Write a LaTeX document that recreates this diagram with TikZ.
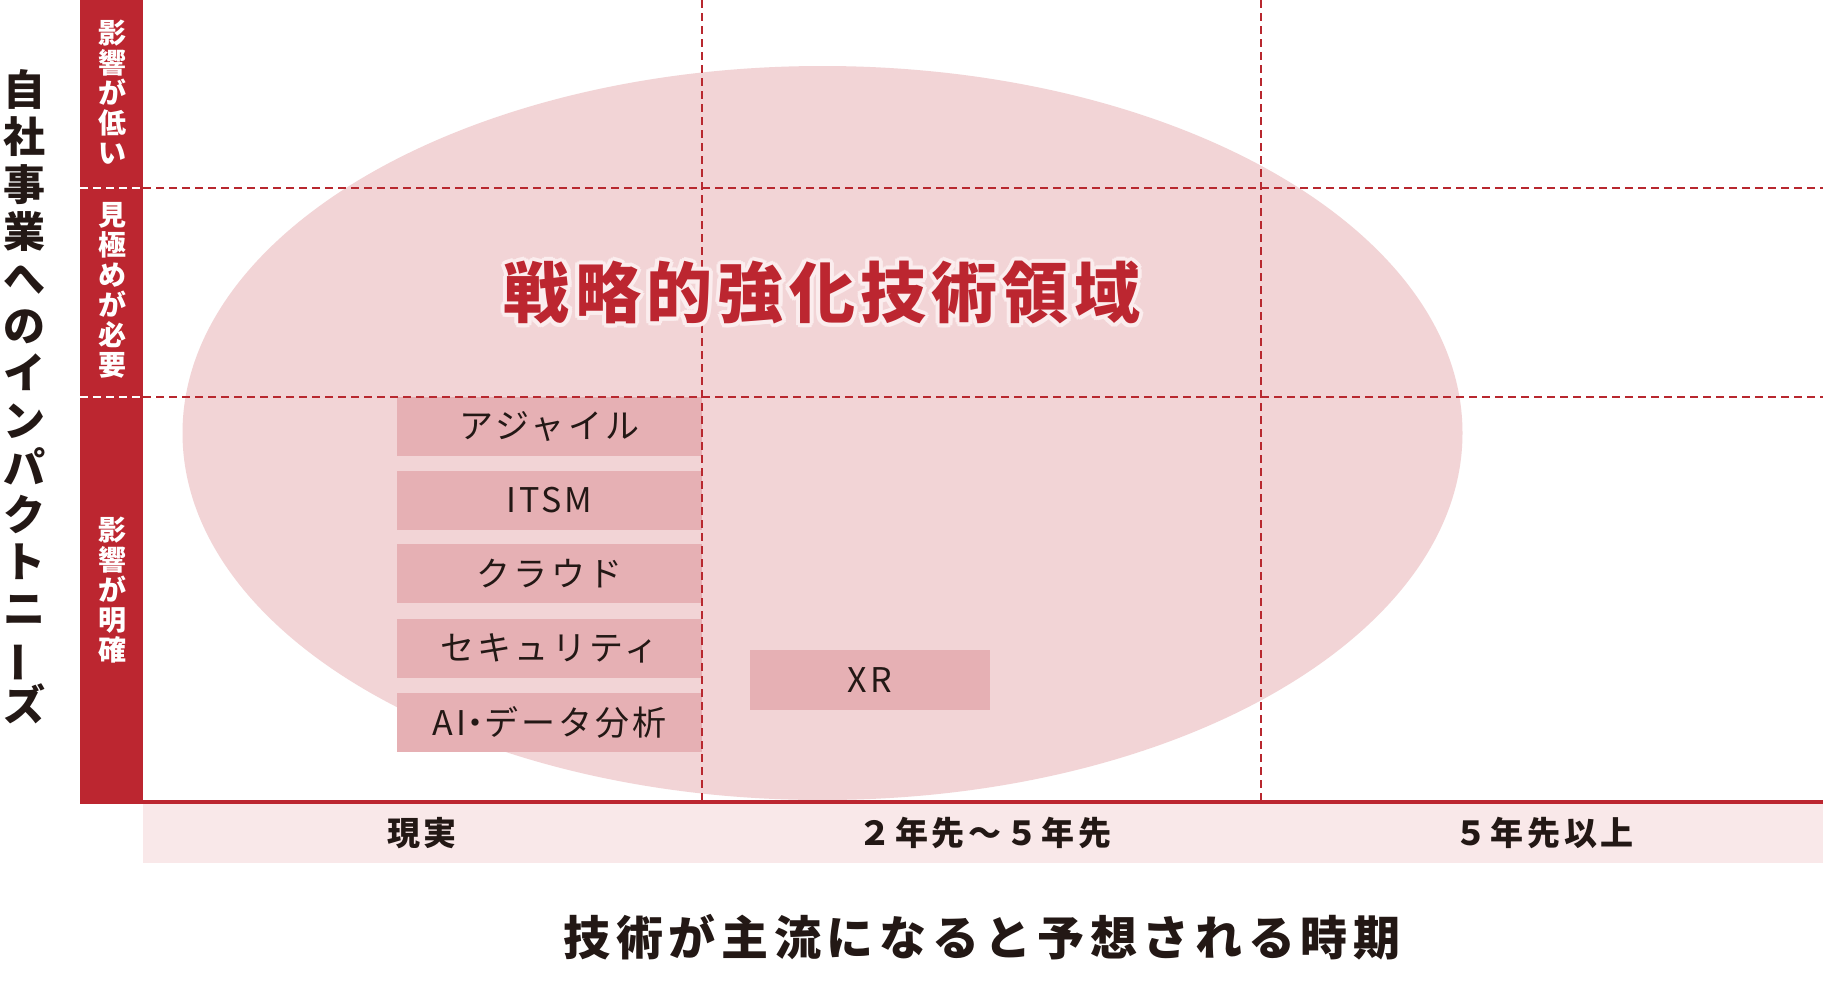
\documentclass[tikz,border=0pt]{standalone}
\usepackage{fontspec}
\usepackage{graphicx}
\usetikzlibrary{calc}
\setmainfont{Noto Sans CJK JP}
\definecolor{barred}{HTML}{BC2630}
\definecolor{dashred}{HTML}{B8282F}
\definecolor{ellcol}{HTML}{F2D4D6}
\definecolor{boxcol}{HTML}{E6B0B4}
\definecolor{bandcol}{HTML}{F9E8E9}
\definecolor{ink}{HTML}{231815}
\definecolor{glow}{HTML}{FBEDEE}
\newcommand{\vbar}{\rotatebox[origin=c]{90}{ー}}
\begin{document}
\begin{tikzpicture}[x=1pt,y=-1pt,
  techbox/.style={fill=boxcol, minimum width=305pt, minimum height=59pt, inner sep=0pt,
    text=ink, font=\fontsize{34}{40}\selectfont\addfontfeatures{LetterSpace=9}},
  gridline/.style={draw=dashred, line width=1.5pt, dash pattern=on 8pt off 5pt},
  wgridline/.style={draw=white, line width=1.5pt, dash pattern=on 8pt off 5pt},
  barlabel/.style={text=white, align=center, inner sep=0pt, font=\bfseries\fontsize{28}{30}\selectfont},
  collabel/.style={text=ink, inner sep=0pt, font=\bfseries\fontsize{33}{36}\selectfont\addfontfeatures{LetterSpace=11}},
  titlefont/.style={inner sep=0pt, font=\bfseries\fontsize{66}{70}\selectfont\addfontfeatures{LetterSpace=8}}
]
\useasboundingbox (0,0) rectangle (1823,1007);
\fill[white] (0,0) rectangle (1823,1007);
% ellipse
\fill[ellcol] (822.5,433) ellipse [x radius=640, y radius=367];
% boxes
\node[techbox] (agile) at (549.5,426.5) {アジャイル};
\node[techbox] (itsm) at (549.5,500) {ITSM};
\node[techbox] (cloud) at (549.5,573.5) {クラウド};
\node[techbox] (sec) at (549.5,648) {セキュリティ};
\node[techbox] (ai) at (549.5,722) {AI\kern-8pt・\kern-8pt データ分析};
\node[techbox, minimum width=240pt, minimum height=60pt] (xr) at (870,680) {XR};
% band and axis
\fill[bandcol] (143,804) rectangle (1823,863);
\fill[barred] (143,800) rectangle (1823,804);
\fill[barred] (80,0) rectangle (143,803.5);
% dashed grid
\draw[gridline] (143,188) -- (1823,188);
\draw[gridline] (143,397) -- (1823,397);
\draw[wgridline] (80,188) -- (143,188);
\draw[wgridline] (80,397) -- (143,397);
\draw[gridline] (702,0) -- (702,800);
\draw[gridline] (1261,0) -- (1261,800);
% title with glow
\foreach \a in {0,30,...,330}{
  \node[titlefont, text=glow] at ($(822,293)+(\a:4)$) {戦略的強化技術領域};
}
\node[titlefont, text=barred] (title) at (822,293) {戦略的強化技術領域};
% bar labels
\node[barlabel] (low) at (112,92) {影\\響\\が\\低\\い};
\node[barlabel] (need) at (112,290) {見\\極\\め\\が\\必\\要};
\node[barlabel] (clear) at (112,590) {影\\響\\が\\明\\確};
% left axis label
\node[text=ink, align=center, inner sep=0pt, font=\bfseries\fontsize{42}{47.2}\selectfont] (ylab) at (24,397)
  {自\\社\\事\\業\\へ\\の\\イ\\ン\\パ\\ク\\ト\\ニ\\\vbar\\ズ};
% column labels
\node[collabel] (c1) at (422,833) {現実};
\node[collabel] (c2) at (985,833) {２年先～５年先};
\node[collabel] (c3) at (1544,833) {５年先以上};
% x axis title
\node[text=ink, inner sep=0pt, font=\bfseries\fontsize{47}{52}\selectfont\addfontfeatures{LetterSpace=12}] (xlab) at (982,937) {技術が主流になると予想される時期};
\end{tikzpicture}
\end{document}
